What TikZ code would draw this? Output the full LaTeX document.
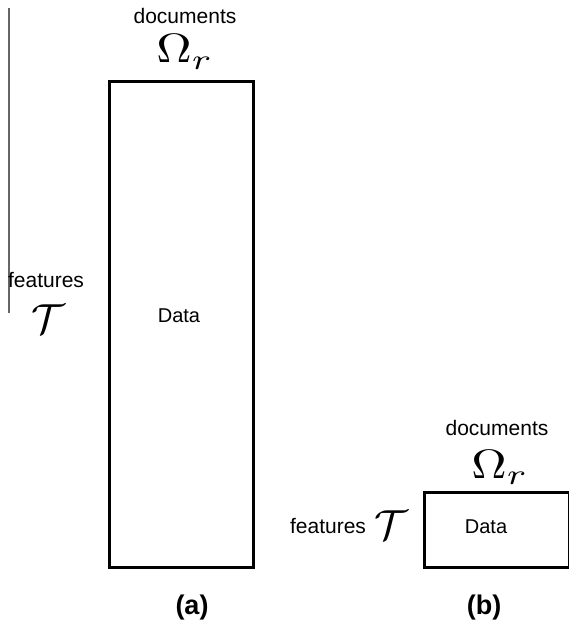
\documentclass[tikz,border=0pt]{standalone}
\usepackage{fontspec}
\setmainfont{Liberation Sans}
\newcommand{\bigomega}{\scalebox{4.9}[4.1]{$\Omega_r$}}
\newcommand{\bigcalt}{\scalebox{4.2}{$\mathcal{T}$}}
\begin{document}
\begin{tikzpicture}[x=1pt,y=-1pt,
  lbl/.style={inner sep=0pt,anchor=base,font=\fontsize{21}{25}\selectfont},
  datalbl/.style={inner sep=0pt,anchor=base,font=\fontsize{20}{24}\selectfont},
  sym/.style={inner sep=0pt,anchor=base},
  captionlbl/.style={inner sep=0pt,anchor=base,font=\fontsize{27}{32}\selectfont\bfseries},
  databox/.style={draw=black,line width=3pt}]
\useasboundingbox (0,0) rectangle (569,623);
% left vertical line
\coordinate (vtop) at (9,8);
\coordinate (vbot) at (9,313);
\draw[gray!80!black,line width=1.5pt] (vtop) -- (vbot);
% panel (a)
\node[databox,minimum width=144pt,minimum height=486pt,inner sep=0pt,anchor=north west] (boxa) at (108,80) {};
\node[lbl] (docsa) at (185,24) {documents};
\node[sym] (omegaa) at (185,63) {\bigomega};
\node[lbl] (feata) at (46,287) {features};
\node[sym] (ta) at (48,333) {\bigcalt};
\node[datalbl] (dataa) at (179,322) {Data};
\node[captionlbl] (capa) at (192,614) {(a)};
% panel (b)
\node[databox,minimum width=145pt,minimum height=75pt,inner sep=0pt,anchor=north west] (boxb) at (423,491) {};
\node[lbl] (docsb) at (497,435) {documents};
\node[sym] (omegab) at (500,478) {\bigomega};
\node[lbl] (featb) at (328,533) {features};
\node[sym] (tb) at (391,539) {\bigcalt};
\node[datalbl] (datab) at (486,533) {Data};
\node[captionlbl] (capb) at (484,614) {(b)};
\end{tikzpicture}
\end{document}
